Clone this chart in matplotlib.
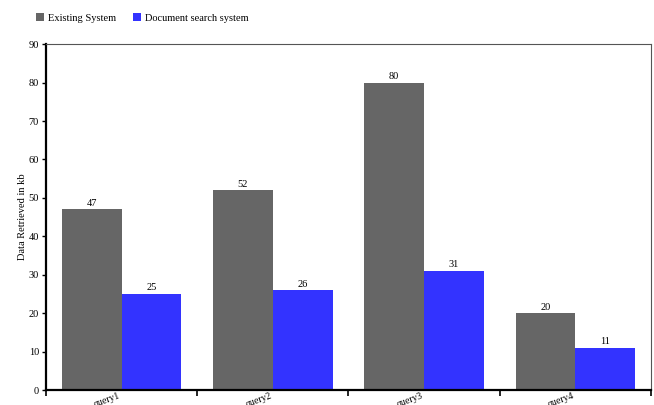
import matplotlib
matplotlib.use('Agg')
from matplotlib import pyplot as plt
import numpy as np

queries = ['query1', 'query2', 'query3', 'query4']
existing = [47, 52, 80, 20]
docsearch = [25, 26, 31, 11]
y_ticks = [0, 10, 20, 30, 40, 50, 60, 70, 80, 90]

plt.rcParams['font.family'] = ['Liberation Serif', 'DejaVu Serif']

fig = plt.figure(figsize=(6.54, 4.05), dpi=100)
ax = fig.add_axes([0.0703, 0.037, 0.9251, 0.854])

X_axis = np.arange(len(queries))
w = 0.395
b1 = ax.bar(X_axis - w/2, existing, w, color='#666666', label='Existing System')
b2 = ax.bar(X_axis + w/2, docsearch, w, color='#3333ff', label='Document search system')

for bars in (b1, b2):
  for rect in bars:
    h = rect.get_height()
    ax.text(rect.get_x() + rect.get_width()/2, h + 0.4, f'{h:g}',
            ha='center', va='bottom', fontsize=7.5)

ax.set_xlim(-0.5, len(queries) - 0.5)
ax.set_ylim(0, 90)
ax.set_yticks(y_ticks)
ax.set_xticks(np.arange(len(queries) + 1) - 0.5)
ax.set_xticklabels([])
ax.set_xticks(X_axis, minor=True)
ax.set_xticklabels(queries, minor=True, rotation=20, ha='right', fontsize=7)
ax.tick_params(axis='x', which='minor', length=0, pad=1)
ax.tick_params(axis='x', which='major', length=4, width=1.2, direction='out')
ax.tick_params(axis='y', length=3, width=1, labelsize=7.5, pad=2)

ax.spines['left'].set_linewidth(1.6)
ax.spines['bottom'].set_linewidth(1.6)
ax.spines['top'].set_color('#555555')
ax.spines['right'].set_color('#555555')
ax.spines['top'].set_linewidth(0.8)
ax.spines['right'].set_linewidth(0.8)

ax.set_ylabel('Data Retrieved in kb', fontsize=7.5, labelpad=1)

fig.legend(handles=[b1, b2], loc='upper left', bbox_to_anchor=(0.04, 0.99), ncol=2,
           frameon=False, fontsize=7.5, handlelength=0.8, handleheight=0.8,
           handletextpad=0.4, columnspacing=1.6)

plt.savefig('out.png', dpi=100)
